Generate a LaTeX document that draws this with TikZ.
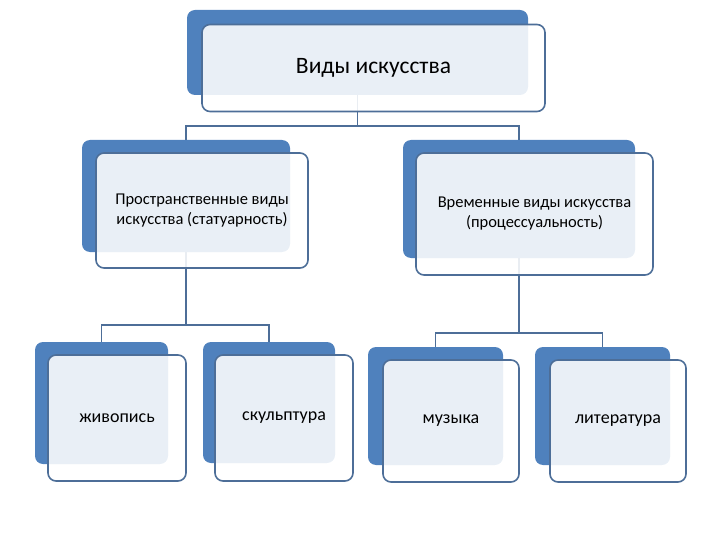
\documentclass[tikz,border=0pt]{standalone}
\usepackage{fontspec}
\setmainfont{Carlito}
\usetikzlibrary{backgrounds}
\definecolor{accentblue}{HTML}{4F81BD}
\definecolor{framegray}{HTML}{4D6E98}
\newcommand{\bigtxt}{\fontsize{23.5}{27}\selectfont}
\newcommand{\midtxt}{\fontsize{16.5}{20}\selectfont}
\newcommand{\smalltxt}{\fontsize{18}{21}\selectfont}

\begin{document}
\begin{tikzpicture}[
    x=1pt, y=-1pt,
    back/.style={fill=accentblue, rounded corners=8pt, inner sep=0pt},
    front/.style={draw=framegray, line width=1.6pt, fill=white, fill opacity=0.88, text opacity=1,
      rounded corners=8pt, align=center, inner sep=0pt},
    link/.style={draw=framegray, line width=1.6pt}
  ]
    \useasboundingbox (0,0) rectangle (720,540);
    % top level
    \node[back, minimum width=341pt, minimum height=85pt] (artb) at (357.5,52.5) {};
    \node[front, minimum width=343pt, minimum height=87pt, font=\bigtxt] (art) at (373.5,68) {Виды искусства};
    % second level
    \node[back, minimum width=208pt, minimum height=112pt] (spaceb) at (186,196) {};
    \node[front, minimum width=212pt, minimum height=115pt, font=\midtxt] (space) at (202,210.5) {Пространственные виды\\искусства (статуарность)};
    \node[back, minimum width=232pt, minimum height=118pt] (timeb) at (519,199) {};
    \node[front, minimum width=237pt, minimum height=122pt, font=\midtxt] (time) at (534.5,214) {Временные виды искусства\\(процессуальность)};
    % third level
    \node[back, minimum width=133pt, minimum height=122pt] (paintb) at (101.5,403) {};
    \node[front, minimum width=138pt, minimum height=126pt, font=\smalltxt] (paint) at (117,418) {живопись};
    \node[back, minimum width=132pt, minimum height=121pt] (sculptb) at (269,402.5) {};
    \node[front, minimum width=138pt, minimum height=126pt, font=\smalltxt] (sculpt) at (284,418) {скульптура};
    \node[back, minimum width=135pt, minimum height=118pt] (musicb) at (435.5,406) {};
    \node[front, minimum width=136pt, minimum height=122pt, font=\smalltxt] (music) at (451,421) {музыка};
    \node[back, minimum width=135pt, minimum height=118pt] (litb) at (602.5,406) {};
    \node[front, minimum width=136pt, minimum height=122pt, font=\smalltxt] (lit) at (618,421) {литература};
    \begin{pgfonlayer}{background}
      \draw[link] (artb.south) -- ++(0,31) -| (spaceb.north);
      \draw[link] (artb.south) -- ++(0,31) -| (timeb.north);
      \draw[link] (spaceb.south) -- ++(0,73) -| (paintb.north);
      \draw[link] (spaceb.south) -- ++(0,73) -| (sculptb.north);
      \draw[link] (timeb.south) -- ++(0,75) -| (musicb.north);
      \draw[link] (timeb.south) -- ++(0,75) -| (litb.north);
    \end{pgfonlayer}
  \end{tikzpicture}
\end{document}
